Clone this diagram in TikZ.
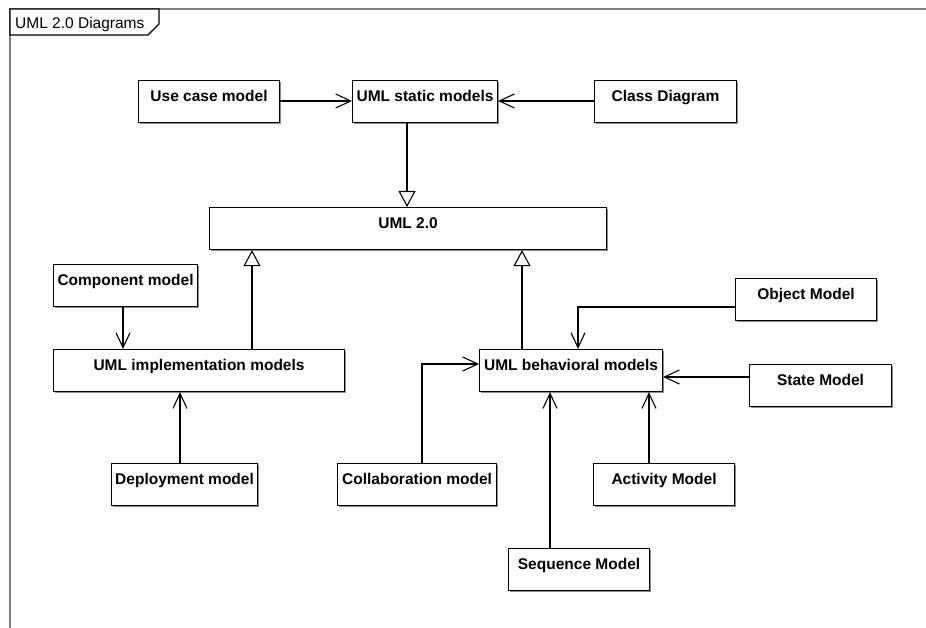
\documentclass[tikz,border=0pt]{standalone}
\usepackage{fontspec}
\setmainfont{Liberation Sans}
\usetikzlibrary{arrows.meta,shadows}

\begin{document}
\begin{tikzpicture}[x=1bp,y=-1bp,
  umlbox/.style={draw, line width=1.1bp, fill=white,
    font=\fontsize{15.5bp}{18bp}\selectfont\bfseries,
    inner xsep=0pt, inner ysep=0pt, text height=21bp, text depth=21bp,
    anchor=north west,
    drop shadow={shadow xshift=1.3bp, shadow yshift=-1.3bp, fill=black!45, opacity=1}},
  assoc/.style={line width=1.1bp, -{Straight Barb[length=15bp,width=14bp,line width=1.1bp]}},
  gen/.style={line width=1.1bp, -{Triangle[open,length=16bp,width=17bp,line width=1.1bp,fill=white]}},
  framecol/.style={draw=black!50, line width=1.1bp}]

\useasboundingbox (0,0) rectangle (926,628);

% diagram frame and its name tab
\draw[framecol] (10,628) -- (10,9) -- (926,9);
\draw[line width=1.1bp, fill=white] (10,9) -- (159,9) -- (159,24) -- (148,35) -- (10,35) -- cycle;
\node[anchor=base west, inner sep=0pt, font=\fontsize{15.5bp}{18bp}\selectfont] (tab) at (15,29) {UML 2.0 Diagrams};

% model boxes
\node[umlbox, minimum width=141bp] (uc)   at (138,80)  {Use case model};
\node[umlbox, minimum width=145bp] (st)   at (352,80)  {UML static models};
\node[umlbox, minimum width=142bp] (cd)   at (594,80)  {Class Diagram};
\node[umlbox, minimum width=397bp] (u2)   at (209,207) {UML 2.0};
\node[umlbox, minimum width=144bp] (comp) at (53,264)  {Component model};
\node[umlbox, minimum width=291bp] (impl) at (53,349)  {UML implementation models};
\node[umlbox, minimum width=146bp] (dep)  at (111,463) {Deployment model};
\node[umlbox, minimum width=183bp] (beh)  at (479,349) {UML behavioral models};
\node[umlbox, minimum width=141bp] (obj)  at (735,278) {Object Model};
\node[umlbox, minimum width=142bp] (stm)  at (749,364) {State Model};
\node[umlbox, minimum width=159bp] (col)  at (337,463) {Collaboration model};
\node[umlbox, minimum width=141bp] (act)  at (593,463) {Activity Model};
\node[umlbox, minimum width=141bp] (seq)  at (508,548) {Sequence Model};

% connector routing lines
\coordinate (xst)   at (407,0);
\coordinate (xcomp) at (123,0);
\coordinate (ximpl) at (252,0);
\coordinate (xdep)  at (180,0);
\coordinate (xbeh)  at (522,0);
\coordinate (xobj)  at (578,0);
\coordinate (xcol)  at (422,0);
\coordinate (xseq)  at (550,0);
\coordinate (xact)  at (649,0);
\coordinate (ytop)  at (0,101);
\coordinate (yobj)  at (0,307);
\coordinate (ystm)  at (0,377);
\coordinate (ycol)  at (0,364);

% connectors
\draw[assoc] (uc.east |- ytop) -- (st.west |- ytop);
\draw[assoc] (cd.west |- ytop) -- (st.east |- ytop);
\draw[gen] (st.south -| xst) -- (u2.north -| xst);
\draw[assoc] (comp.south -| xcomp) -- (impl.north -| xcomp);
\draw[gen] (impl.north -| ximpl) -- (u2.south -| ximpl);
\draw[assoc] (dep.north -| xdep) -- (impl.south -| xdep);
\draw[gen] (beh.north -| xbeh) -- (u2.south -| xbeh);
\draw[assoc] (obj.west |- yobj) -| (beh.north -| xobj);
\draw[assoc] (stm.west |- ystm) -- (beh.east |- ystm);
\draw[assoc] (col.north -| xcol) |- (beh.west |- ycol);
\draw[assoc] (seq.north -| xseq) -- (beh.south -| xseq);
\draw[assoc] (act.north -| xact) -- (beh.south -| xact);

\end{tikzpicture}
\end{document}
